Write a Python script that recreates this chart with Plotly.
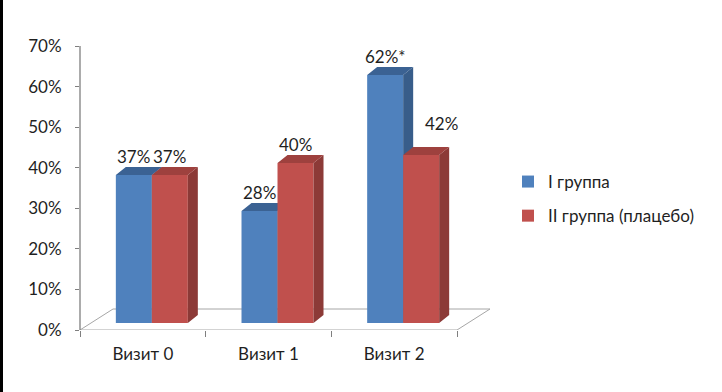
import plotly.graph_objects as go

# ---- data ----
categories = ["Визит 0", "Визит 1", "Визит 2"]
group1_name = "I группа"
group2_name = "II группа (плацебо)"
group1_values = [0.37, 0.28, 0.62]
group2_values = [0.37, 0.40, 0.42]
group1_marks = ["", "", "*"]
group2_marks = ["", "", ""]
y_tick_values = [0, 0.1, 0.2, 0.3, 0.4, 0.5, 0.6, 0.7]
y_tick_labels = ["0%", "10%", "20%", "30%", "40%", "50%", "60%", "70%"]

# ---- style / geometry ----
FONT = "Lato"
FS = 17
TXT = "#1f1f1f"
BLUE, BLUE_SIDE, BLUE_TOP = "#4F81BD", "#385D8A", "#3B6293"
RED, RED_SIDE, RED_TOP = "#C0504D", "#8C3A37", "#9E413E"
AXIS = "#7F7F7F"

W, H = 722, 392
ML, MR, MT, MB = 80, 227, 46, 62
PW, PH = W - ML - MR, H - MT - MB
n = len(categories)
PX_PER_CAT = 125.67
x_range = [-0.5, -0.5 + PW / PX_PER_CAT]
y_range = [0, 0.70]
px_per_y = PH / (y_range[1] - y_range[0])

# bars live on a recessed plane (perspective of 3D chart)
bar_shift = 9 / PX_PER_CAT
bar_px_per_y = 400.0
bar_y0 = -7 / bar_px_per_y
bar_y_range = [bar_y0, bar_y0 + PH / bar_px_per_y]
bar_x_range = [x_range[0] - bar_shift, x_range[1] - bar_shift]
bargap = 1 - 72 / PX_PER_CAT
bw = (1 - bargap) / 2
side_dx = 10 / PX_PER_CAT
top_dy = 8 / bar_px_per_y
floor_dx = 33 / PX_PER_CAT
floor_dy = 21 / px_per_y

fig = go.Figure()

# floor
fx = [-0.5, n - 0.5, n - 0.5 + floor_dx, -0.5 + floor_dx, -0.5]
fy = [0, 0, floor_dy, floor_dy, 0]
fig.add_trace(go.Scatter(x=fx, y=fy, mode="lines", fill="toself", fillcolor="white",
                         line=dict(color="#A6A6A6", width=1), showlegend=False,
                         hoverinfo="skip", xaxis="x", yaxis="y"))


def faces(values, left_off):
    sx, sy, tx, ty = [], [], [], []
    for i, v in enumerate(values):
        x0 = i + left_off
        x1 = x0 + bw
        sx += [x1, x1 + side_dx, x1 + side_dx, x1, x1, None]
        sy += [0, top_dy, v + top_dy, v, 0, None]
        tx += [x0, x1, x1 + side_dx, x0 + side_dx, x0, None]
        ty += [v, v, v + top_dy, v + top_dy, v, None]
    return sx, sy, tx, ty


idx = list(range(n))
for vals, name, c, cs, ct, off, z in [
    (group1_values, group1_name, BLUE, BLUE_SIDE, BLUE_TOP, -bw, 1),
    (group2_values, group2_name, RED, RED_SIDE, RED_TOP, 0.0, 2),
]:
    fig.add_trace(go.Bar(x=idx, y=vals, name=name, marker=dict(color=c, line=dict(width=0)),
                         xaxis="x3", yaxis="y2", zorder=z, legendgroup=name,
                         hoverinfo="skip"))
    sx, sy, tx, ty = faces(vals, off)
    fig.add_trace(go.Scatter(x=sx, y=sy, mode="lines", fill="toself", fillcolor=cs,
                             line=dict(width=0, color=cs), showlegend=False, hoverinfo="skip",
                             xaxis="x3", yaxis="y2", zorder=z))
    fig.add_trace(go.Scatter(x=tx, y=ty, mode="lines", fill="toself", fillcolor=ct,
                             line=dict(width=0, color=ct), showlegend=False, hoverinfo="skip",
                             xaxis="x3", yaxis="y2", zorder=z))

# data labels
annotations = []
label_nudge = {(1, 2): (20, 13)}
for g, (vals, marks, off) in enumerate([(group1_values, group1_marks, -bw / 2),
                                        (group2_values, group2_marks, bw / 2)]):
    for i, v in enumerate(vals):
        nx, ny = label_nudge.get((g, i), (0, 0))
        annotations.append(dict(x=i + off, y=v, xref="x3", yref="y2",
                                text=f"{round(v * 100)}%{marks[i]}", showarrow=False,
                                yanchor="middle", xanchor="center",
                                xshift=nx, yshift=19 + ny,
                                font=dict(family=FONT, size=FS, color=TXT)))

fig.update_layout(
    width=W, height=H,
    margin=dict(l=ML, r=MR, t=MT, b=MB),
    paper_bgcolor="white", plot_bgcolor="rgba(0,0,0,0)",
    barmode="group", bargap=bargap, bargroupgap=0,
    font=dict(family=FONT, size=FS, color=TXT),
    annotations=annotations,
    legend=dict(x=(508 - ML) / PW, y=(MT + PH - 164) / PH, xanchor="left", yanchor="top",
                font=dict(family=FONT, size=FS, color=TXT), tracegroupgap=9,
                bgcolor="rgba(0,0,0,0)"),
    xaxis=dict(range=x_range, tickvals=[i - 0.5 for i in range(n + 1)], showticklabels=False,
               ticks="outside", ticklen=6, tickcolor=AXIS, showline=False, showgrid=False,
               zeroline=False, fixedrange=True),
    xaxis2=dict(range=x_range, overlaying="x", anchor="y", side="bottom", tickvals=idx,
                ticktext=categories, ticks="", showline=False, showgrid=False, zeroline=False,
                ticklabelstandoff=12, tickfont=dict(family=FONT, size=FS, color=TXT)),
    xaxis3=dict(range=bar_x_range, overlaying="x", anchor="y2", visible=False),
    yaxis=dict(range=y_range, tickvals=y_tick_values, ticktext=y_tick_labels,
               ticks="outside", ticklen=4, tickcolor=AXIS, showline=True, linecolor=AXIS,
               linewidth=1, showgrid=False, zeroline=False, ticklabelstandoff=10,
               tickfont=dict(family=FONT, size=FS, color=TXT)),
    yaxis2=dict(range=bar_y_range, overlaying="y", anchor="x3", visible=False),
    shapes=[dict(type="rect", xref="paper", yref="paper",
                 x0=-ML / PW, x1=(3 - ML) / PW, y0=-MB / PH, y1=1 + MT / PH,
                 fillcolor="black", line=dict(width=0), layer="above"),
            dict(type="line", xref="paper", yref="paper", x0=0, x1=0, y0=0, y1=1,
                 line=dict(color=AXIS, width=1.3), layer="above")],
)

fig.add_trace(go.Scatter(x=[None], y=[None], xaxis="x2", yaxis="y", showlegend=False,
                         hoverinfo="skip"))

fig.write_html("out.html", config={"displayModeBar": False},
               post_script="document.body.style.margin='0';")
